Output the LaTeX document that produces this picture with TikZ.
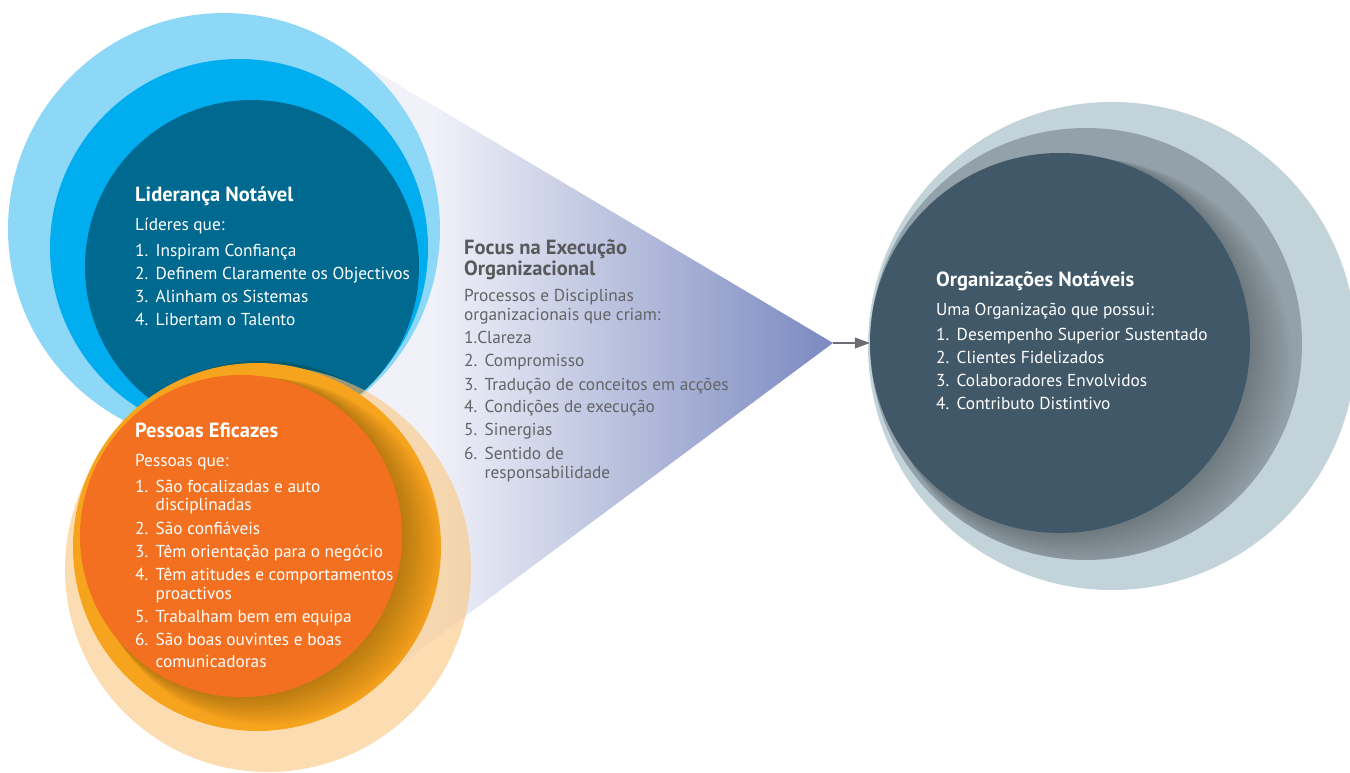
\documentclass[tikz,border=0pt]{standalone}
\usepackage{fontspec}
\setmainfont{PT Sans}
\usetikzlibrary{arrows.meta}
\definecolor{lblue}{HTML}{8ED8F7}
\definecolor{mblue}{HTML}{00AEEF}
\definecolor{dblue}{HTML}{006990}
\definecolor{shad}{HTML}{005A6E}
\definecolor{pale}{HTML}{FAC67F}
\definecolor{morange}{HTML}{F6A31D}
\definecolor{iorange}{HTML}{F37021}
\definecolor{gout}{HTML}{C2D3D9}
\definecolor{gmid}{HTML}{93A2AA}
\definecolor{gin}{HTML}{405868}
\definecolor{trilight}{HTML}{F1F2F9}
\definecolor{tridark}{HTML}{7A89C0}
\definecolor{focusttl}{HTML}{58595B}
\definecolor{focustxt}{HTML}{636466}
\definecolor{arrowgray}{HTML}{6D6E71}
\newcommand{\nm}[1]{\makebox[20.5pt][l]{#1}}
\begin{document}
\begin{tikzpicture}[x=1pt,y=-1pt,
  bt/.style={anchor=base west, inner sep=0pt, text=white, font=\fontsize{17.3}{20}\selectfont},
  ttl/.style={anchor=base west, inner sep=0pt, text=white, font=\fontsize{20.5}{23}\selectfont\bfseries},
  ft/.style={bt, text=focustxt},
  fttl/.style={ttl, text=focusttl},
  ringshadow/.style={black, opacity=0.018}]
\useasboundingbox (0,0) rectangle (1350,773);
% funnel
\coordinate (apex) at (833,343);
\begin{scope}
  \clip (330,44) -- (apex) -- (370,687) -- (240,540) -- (240,260) -- cycle;
  \fill[trilight] (200,0) rectangle (431,773);
  \shade[left color=trilight, right color=tridark] (430,0) rectangle (834,773);
\end{scope}
% blue group
\fill[lblue] (224,229) circle[radius=216pt];
\fill[mblue] (239,248) circle[radius=189pt];
\fill[dblue] (252,267) circle[radius=167pt];
\begin{scope}
  \clip (252,267) circle[radius=167pt];
  \fill[shad] (262,549) circle[radius=188pt];
\end{scope}
% orange group
\fill[pale, opacity=0.6] (268,569) circle[radius=203pt];
\fill[morange] (257,547) circle[radius=184pt];
\begin{scope}
  \clip (257,547) circle[radius=184pt];
  \foreach \i in {1,...,12}
    \fill[ringshadow] ({241+\i*2.2},{536+\i*1.3}) circle[radius={161pt+\i*1.0pt}];
\end{scope}
\fill[iorange] (241,536) circle[radius=161pt];
% grey group
\fill[gout] (1112,346) circle[radius=244pt];
\fill[gmid] (1086,344) circle[radius=216pt];
\begin{scope}
  \clip (1086,344) circle[radius=216pt];
  \foreach \i in {1,...,12}
    \fill[ringshadow] ({1060+\i*2.4},{343+\i*1.6}) circle[radius={190pt+\i*1.1pt}];
\end{scope}
\node[circle, fill=gin, minimum size=380pt, inner sep=0pt] (org) at (1060,343) {};
% connector
\draw[arrowgray, line width=1.1pt, -{Triangle[length=15pt,width=11pt]}] (apex) -- (org.west);
% Lideranca
\node[ttl] (l0) at (135,201.7) {Liderança Notável};
\node[bt] (l1) at (135,230.7) {Líderes que:};
\node[bt] (l2) at (135,256.7) {\nm{1.}Inspiram Confiança};
\node[bt] (l3) at (135,279.7) {\nm{2.}Definem Claramente os Objectivos};
\node[bt] (l4) at (135,302.7) {\nm{3.}Alinham os Sistemas};
\node[bt] (l5) at (135,325.7) {\nm{4.}Libertam o Talento};
% Pessoas
\node[ttl] (p0) at (135,437.3) {Pessoas Eficazes};
\node[bt] (p1) at (135,466) {Pessoas que:};
\node[bt] (p2) at (135,492.7) {\nm{1.}São focalizadas e auto};
\node[bt] (p2b) at (155.5,510) {disciplinadas};
\node[bt] (p3) at (135,534.3) {\nm{2.}São confiáveis};
\node[bt] (p4) at (135,557.3) {\nm{3.}Têm orientação para o negócio};
\node[bt] (p5) at (135,580) {\nm{4.}Têm atitudes e comportamentos};
\node[bt] (p5b) at (155.5,599.3) {proactivos};
\node[bt] (p6) at (135,622.7) {\nm{5.}Trabalham bem em equipa};
\node[bt] (p7) at (135,645.3) {\nm{6.}São boas ouvintes e boas};
\node[bt] (p7b) at (155.5,667.3) {comunicadoras};
% Focus
\node[fttl] (f0) at (464,254) {Focus na Execução};
\node[fttl] (f0b) at (464,275.7) {Organizacional};
\node[ft] (f1) at (464,301.7) {Processos e Disciplinas};
\node[ft] (f1b) at (464,320) {organizacionais que criam:};
\node[ft] (f2) at (464,343.3) {1.Clareza};
\node[ft] (f3) at (464,366.7) {\nm{2.}Compromisso};
\node[ft] (f4) at (464,390) {\nm{3.}Tradução de conceitos em acções};
\node[ft] (f5) at (464,412.7) {\nm{4.}Condições de execução};
\node[ft] (f6) at (464,435.7) {\nm{5.}Sinergias};
\node[ft] (f7) at (464,459.3) {\nm{6.}Sentido de};
\node[ft] (f7b) at (484.5,478.3) {responsabilidade};
% Organizacoes
\node[ttl] (o0) at (936,286.7) {Organizações Notáveis};
\node[bt] (o1) at (936,315) {Uma Organização que possui:};
\node[bt] (o2) at (936,340) {\nm{1.}Desempenho Superior Sustentado};
\node[bt] (o3) at (936,363.3) {\nm{2.}Clientes Fidelizados};
\node[bt] (o4) at (936,386.7) {\nm{3.}Colaboradores Envolvidos};
\node[bt] (o5) at (936,409.3) {\nm{4.}Contributo Distintivo};
\end{tikzpicture}
\end{document}
